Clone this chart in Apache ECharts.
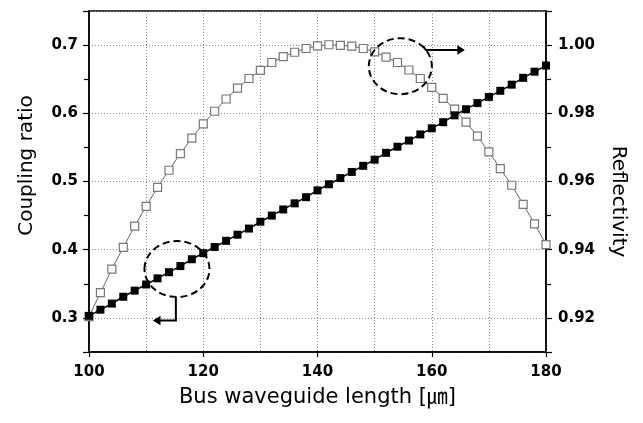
<!DOCTYPE html>
<html><head><meta charset="utf-8">
<script src="https://cdn.jsdelivr.net/npm/echarts@6/dist/echarts.min.js"></script>
<style>html,body{margin:0;padding:0;background:#fff}#c{width:643px;height:423px}</style>
</head><body><div id="c"></div>
<script>
const lengths = [100,102,104,106,108,110,112,114,116,118,120,122,124,126,128,130,132,134,136,138,140,142,144,146,148,150,152,154,156,158,160,162,164,166,168,170,172,174,176,178,180];
const coupling = [0.303,0.312,0.321,0.331,0.340,0.349,0.358,0.367,0.376,0.386,0.395,0.404,0.413,0.422,0.431,0.441,0.450,0.459,0.468,0.477,0.487,0.496,0.505,0.514,0.523,0.532,0.542,0.551,0.560,0.569,0.578,0.587,0.597,0.606,0.615,0.624,0.633,0.642,0.652,0.661,0.670];
const reflectivity = [0.9204,0.9274,0.9343,0.9407,0.9469,0.9527,0.9583,0.9633,0.9682,0.9727,0.9769,0.9806,0.9842,0.9874,0.9902,0.9926,0.9949,0.9966,0.9979,0.9990,0.9998,1.0001,0.9999,0.9997,0.9990,0.9980,0.9965,0.9949,0.9927,0.9902,0.9876,0.9844,0.9812,0.9774,0.9733,0.9687,0.9638,0.9589,0.9533,0.9476,0.9415];
const xTickLabels = ['100','120','140','160','180'];
const leftTickLabels = ['0.3','0.4','0.5','0.6','0.7'];
const rightTickLabels = ['0.92','0.94','0.96','0.98','1.00'];

const chart = echarts.init(document.getElementById('c'), null, {renderer:'canvas'});
const tickFont = {fontFamily:'DejaVu Sans', fontWeight:'bold', fontSize:15, color:'#000'};
const nameFont = {fontFamily:"'DejaVu Sans','Noto Sans CJK KR'", fontSize:20, color:'#000'};
const dotted = {show:true, lineStyle:{color:'#8a8a8a', type:[1,2], width:1}};
const axLine = {show:true, onZero:false, lineStyle:{color:'#000', width:1.5}};

function fmt(list){ return function(v){ const s = list.find(t => Math.abs(parseFloat(t)-v) < 1e-6); return s || ''; }; }

const option = {
  animation:false,
  backgroundColor:'#fff',
  grid:{left:89, right:97, top:11, bottom:71, show:true, borderColor:'#000', borderWidth:1.5, backgroundColor:'transparent'},
  xAxis:{type:'value', min:100, max:180, interval:20,
    name:'Bus waveguide length [㎛]', nameLocation:'middle', nameGap:35,
    nameTextStyle:Object.assign({}, nameFont, {fontSize:21}),
    axisLine:axLine,
    axisTick:{show:true, length:5, lineStyle:{color:'#000', width:1.2}},
    minorTick:{show:false, splitNumber:2},
    splitLine:dotted, minorSplitLine:dotted,
    axisLabel:Object.assign({}, tickFont, {margin:13, formatter:fmt(xTickLabels)})},
  yAxis:[
    {type:'value', min:0.25, max:0.75, splitNumber:5, position:'left',
     name:'Coupling ratio', nameLocation:'middle', nameGap:52, nameRotate:90,
     nameTextStyle:Object.assign({}, nameFont, {padding:[0,0,0,32]}),
     axisLine:axLine,
     axisTick:{show:true, length:6, lineStyle:{color:'#000', width:1.2}},
     minorTick:{show:true, splitNumber:2, length:5, lineStyle:{color:'#000', width:1.2}},
     splitLine:dotted,
     axisLabel:Object.assign({}, tickFont, {margin:11, showMinLabel:false, showMaxLabel:false, formatter:fmt(leftTickLabels)})},
    {type:'value', min:0.91, max:1.01, splitNumber:5, position:'right',
     name:'Reflectivity', nameLocation:'middle', nameGap:62, nameRotate:-90,
     nameTextStyle:Object.assign({}, nameFont, {padding:[0,0,0,40]}),
     axisLine:axLine,
     axisTick:{show:true, length:6, lineStyle:{color:'#000', width:1.2}},
     minorTick:{show:true, splitNumber:2, length:5, lineStyle:{color:'#000', width:1.2}},
     splitLine:{show:false},
     axisLabel:Object.assign({}, tickFont, {margin:12, showMinLabel:false, showMaxLabel:false, formatter:fmt(rightTickLabels)})}
  ],
  series:[
    {type:'line', name:'Reflectivity', yAxisIndex:1, data:lengths.map((x,i)=>[x, reflectivity[i]]),
     symbol:'rect', symbolSize:8, showAllSymbol:true,
     lineStyle:{color:'#666', width:1}, itemStyle:{color:'#fff', borderColor:'#777', borderWidth:1.2}, z:2},
    {type:'line', name:'Coupling ratio', yAxisIndex:0, data:lengths.map((x,i)=>[x, coupling[i]]),
     symbol:'rect', symbolSize:8, showAllSymbol:true,
     lineStyle:{color:'#000', width:1.5}, itemStyle:{color:'#000', borderColor:'#000', borderWidth:0}, z:3}
  ]
};
chart.setOption(option);

const c1 = chart.convertToPixel({seriesIndex:0}, [154.5, 0.9938]);
const c2 = chart.convertToPixel({seriesIndex:1}, [115.4, 0.3716]);
const dash = {stroke:'#000', lineWidth:2, lineDash:[7,4], fill:null};
const solid = {stroke:'#000', lineWidth:2, fill:null};
chart.setOption({graphic:[
  {type:'ellipse', shape:{cx:c1[0], cy:c1[1], rx:31.5, ry:28}, style:dash, z:10},
  {type:'polyline', shape:{points:[[c1[0]+22.8,c1[1]-20.3],[c1[0]+25.5,c1[1]-16.3],[c1[0]+59,c1[1]-16.3]]}, style:solid, z:10},
  {type:'polygon', shape:{points:[[c1[0]+64.5,c1[1]-16.3],[c1[0]+57,c1[1]-21],[c1[0]+57,c1[1]-11.6]]}, style:{fill:'#000'}, z:10},
  {type:'ellipse', shape:{cx:c2[0], cy:c2[1], rx:32.5, ry:28}, style:dash, z:10},
  {type:'polyline', shape:{points:[[c2[0]-1.1,c2[1]+28.2],[c2[0]-1.1,c2[1]+51.4],[c2[0]-18,c2[1]+51.4]]}, style:solid, z:10},
  {type:'polygon', shape:{points:[[c2[0]-24.1,c2[1]+51.4],[c2[0]-16.5,c2[1]+46.7],[c2[0]-16.5,c2[1]+56.1]]}, style:{fill:'#000'}, z:10}
]});
</script></body></html>
